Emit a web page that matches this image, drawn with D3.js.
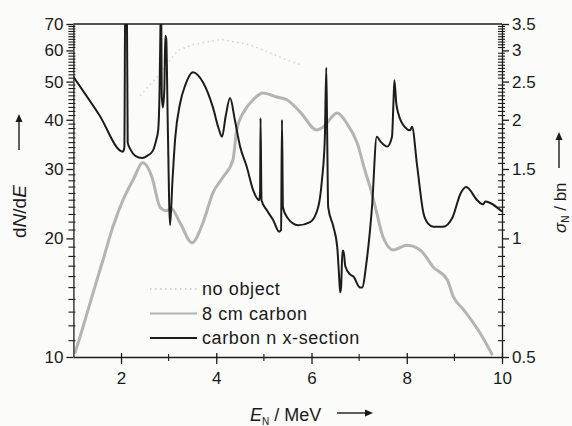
<!DOCTYPE html>
<html>
<head>
<meta charset="utf-8">
<script src="https://cdn.jsdelivr.net/npm/d3@7"></script>
<style>
  body { margin: 0; background: #fbfbf9; }
  svg { display: block; }
  text { font-family: "Liberation Sans", Arial, sans-serif; fill: #1a1a1a; }
</style>
</head>
<body>
<script>
// carbon n x-section (sigma_N in bn)
var xsE = [1.0, 1.54, 2.04, 2.07, 2.09, 2.12, 2.14, 2.2, 2.3, 2.44, 2.55, 2.67, 2.74, 2.78, 2.81, 2.83, 2.84, 2.855, 2.88, 2.91, 2.93, 2.95, 2.98, 3.03,
  3.08, 3.14, 3.24, 3.35, 3.51, 3.72, 3.93, 4.05, 4.12, 4.2, 4.29, 4.39, 4.5, 4.64, 4.77, 4.9, 4.92, 4.93, 4.95, 5.06, 5.2, 5.32, 5.36, 5.38, 5.4,
  5.49, 5.72, 5.97, 6.14, 6.22, 6.28, 6.31, 6.33, 6.35, 6.46, 6.54, 6.58, 6.6, 6.62, 6.65, 6.67, 6.71, 6.81, 6.88, 7.02, 7.06, 7.16, 7.27, 7.37,
  7.45, 7.59, 7.69, 7.72, 7.74, 7.78, 7.82, 7.97, 8.07, 8.11, 8.22, 8.35, 8.45, 8.56, 8.76, 8.96, 9.13, 9.25, 9.48, 9.6, 9.65, 9.75, 10.0];
var xsSigma = [2.57, 2.06, 1.66, 1.7, 4.5, 4.5, 1.75, 1.68, 1.62, 1.6, 1.62, 1.67, 1.78, 1.88, 2.4, 3.6, 4.5, 2.3, 2.15, 2.4, 3.27, 3.2, 2.0, 1.08,
  1.4, 1.81, 2.2, 2.45, 2.64, 2.49, 2.15, 1.9, 1.81, 2.05, 2.27, 2.0, 1.71, 1.52, 1.33, 1.25, 1.3, 2.02, 1.25, 1.18, 1.11, 1.04, 1.05, 2.0, 1.2,
  1.13, 1.08, 1.1, 1.2, 1.41, 1.8, 2.71, 1.8, 1.2, 1.07, 0.95, 0.8, 0.73, 0.75, 0.93, 0.93, 0.85, 0.81, 0.8, 0.75, 0.75, 0.88, 1.2, 1.81,
  1.76, 1.71, 1.81, 2.2, 2.52, 2.2, 2.08, 1.91, 1.88, 1.92, 1.52, 1.16, 1.09, 1.07, 1.07, 1.13, 1.3, 1.35, 1.25, 1.22, 1.24, 1.23, 1.17];

// 8 cm carbon (dN/dE)
var carbonE = [1.03, 1.2, 1.41, 1.62, 1.83, 2.04, 2.25, 2.46, 2.65, 2.82, 2.95, 3.05, 3.24, 3.49, 3.72, 3.93, 4.14, 4.35, 4.43, 4.6, 4.77, 4.98,
  5.27, 5.49, 5.76, 6.11, 6.24, 6.54, 6.74, 6.96, 7.12, 7.23, 7.37, 7.5, 7.72, 8.0, 8.28, 8.56, 8.85, 8.98, 9.19, 9.54, 9.8];
var carbonN = [10.2, 11.9, 14.5, 17.6, 21.4, 25.0, 28.1, 31.1, 28.6, 24.0, 23.5, 23.8, 21.9, 19.5, 21.9, 26.1, 28.6, 31.6, 37.7, 42.3, 44.9, 46.8,
  45.7, 44.9, 41.9, 37.7, 38.3, 41.6, 39.2, 34.9, 29.8, 27.0, 23.2, 20.2, 18.7, 19.2, 18.7, 16.9, 15.7, 14.2, 13.2, 11.5, 10.1];

// no object (dN/dE), only the visible part
var openE = [2.4, 2.6, 2.8, 3.0, 3.2, 3.5, 3.8, 4.1, 4.4, 4.7, 5.0, 5.3, 5.6, 5.8];
var openN = [46, 49, 52, 56, 60, 62, 63, 64, 63, 62, 60, 58, 56, 55];

var xTicks = [2, 4, 6, 8, 10];
var xMinor = [3, 5, 7, 9];
var yTicks = [10, 20, 30, 40, 50, 60, 70];
var sigmaTicks = [0.5, 1, 1.5, 2, 2.5, 3, 3.5];
var legendLabels = ["no object", "8 cm carbon", "carbon n x-section"];

var width = 572, height = 426,
  padL = 73.4, padR = 502, padT = 24, padB = 357;

var svg = d3.select("body").append("svg")
  .attr("width", width)
  .attr("height", height);

var x = d3.scaleLinear().domain([1, 10]).range([padL, padR]);
var y = d3.scaleLog().domain([10, 70]).range([padB, padT]);
var yR = d3.scaleLog().domain([0.5, 3.5]).range([padB, padT]);

svg.append("clipPath").attr("id", "plot")
  .append("rect").attr("x", padL).attr("y", padT).attr("width", padR - padL).attr("height", padB - padT);

var g = svg.append("g").attr("clip-path", "url(#plot)");

var lineN = d3.line().x(function(d){ return x(d[0]); }).y(function(d){ return y(d[1]); });
var lineS = d3.line().x(function(d){ return x(d[0]); }).y(function(d){ return yR(d[1]); })
  .curve(d3.curveMonotoneX);

g.append("path")
  .datum(d3.zip(openE, openN))
  .attr("d", lineN)
  .attr("fill", "none")
  .attr("stroke", "#d2d2d2")
  .attr("stroke-width", 1.5)
  .attr("stroke-dasharray", "1.5,3.5");

g.append("path")
  .datum(d3.zip(carbonE, carbonN))
  .attr("d", lineN.curve(d3.curveMonotoneX))
  .attr("fill", "none")
  .attr("stroke", "#b4b4b4")
  .attr("stroke-width", 3);

g.append("path")
  .datum(d3.zip(xsE, xsSigma))
  .attr("d", lineS)
  .attr("fill", "none")
  .attr("stroke", "#1c1c1c")
  .attr("stroke-width", 2)
  .attr("stroke-linejoin", "round");

// axes
function styleAxis(sel) {
  sel.selectAll("path, line").attr("stroke", "#1c1c1c").attr("stroke-width", 1.3);
  sel.selectAll("text").attr("font-size", 17).attr("fill", "#1a1a1a")
    .attr("font-family", "Liberation Sans, Arial, sans-serif");
}

var minorN = d3.range(11, 70).filter(function(v){ return v % 10 != 0; });

// minor ticks drawn by hand, the two log axes share positions
var minor = svg.append("g").attr("stroke", "#1c1c1c").attr("stroke-width", 1.1);
minor.selectAll(".ml").data(minorN).enter().append("line")
  .attr("x1", padL - 5).attr("x2", padL + 2)
  .attr("y1", function(d){ return y(d); }).attr("y2", function(d){ return y(d); });
minor.selectAll(".mr").data(minorN.map(function(v){ return v / 20; })).enter().append("line")
  .attr("x1", padR - 4).attr("x2", padR + 3)
  .attr("y1", function(d){ return yR(d); }).attr("y2", function(d){ return yR(d); });
minor.selectAll(".mx").data(xMinor).enter().append("line")
  .attr("x1", function(d){ return x(d); }).attr("x2", function(d){ return x(d); })
  .attr("y1", padB - 3).attr("y2", padB + 4);

svg.append("g").attr("transform", "translate(" + padL + ",0)")
  .call(d3.axisLeft(y).tickValues(yTicks).tickSize(7).tickSizeOuter(0).tickPadding(3).tickFormat(d3.format("d")))
  .call(styleAxis);

svg.append("g").attr("transform", "translate(" + padR + ",0)")
  .call(d3.axisRight(yR).tickValues(sigmaTicks).tickSize(7).tickSizeOuter(0).tickPadding(3).tickFormat(d3.format("")))
  .call(styleAxis);

svg.append("g").attr("transform", "translate(0," + padB + ")")
  .call(d3.axisBottom(x).tickValues(xTicks).tickSize(7).tickSizeOuter(0).tickPadding(8).tickFormat(d3.format("d")))
  .call(styleAxis)
  .selectAll(".tick line").attr("y1", -4);

svg.append("line")
  .attr("x1", padL).attr("x2", padR).attr("y1", padT).attr("y2", padT)
  .attr("stroke", "#1c1c1c").attr("stroke-width", 1.3);

// legend
var legend = svg.append("g");
var legendStyles = [
  { stroke: "#c4c4c4", width: 1.5, dash: "1.5,3.5" },
  { stroke: "#b4b4b4", width: 2, dash: null },
  { stroke: "#1c1c1c", width: 2, dash: null }
];
legendLabels.forEach(function(label, i) {
  var ly = 289 + i * 24.5;
  legend.append("line")
    .attr("x1", 150).attr("x2", 197).attr("y1", ly).attr("y2", ly)
    .attr("stroke", legendStyles[i].stroke)
    .attr("stroke-width", legendStyles[i].width)
    .attr("stroke-dasharray", legendStyles[i].dash);
  legend.append("text")
    .attr("x", 202).attr("y", ly + 6)
    .attr("font-size", 18)
    .attr("letter-spacing", 0.6)
    .text(label);
});

// axis titles
function arrow(x1, y1, x2, y2) {
  var a = Math.atan2(y2 - y1, x2 - x1), L = 8, W = 3.5;
  svg.append("line").attr("x1", x1).attr("y1", y1)
    .attr("x2", x2 - Math.cos(a) * 4).attr("y2", y2 - Math.sin(a) * 4)
    .attr("stroke", "#1a1a1a").attr("stroke-width", 1.4);
  var p1 = [x2 - Math.cos(a) * L - Math.sin(a) * W, y2 - Math.sin(a) * L + Math.cos(a) * W],
    p2 = [x2 - Math.cos(a) * L + Math.sin(a) * W, y2 - Math.sin(a) * L - Math.cos(a) * W];
  svg.append("path").attr("d", "M" + x2 + "," + y2 + "L" + p1 + "L" + p2 + "Z").attr("fill", "#1a1a1a");
}

var xt = svg.append("text").attr("x", 250).attr("y", 421).attr("font-size", 18);
xt.append("tspan").attr("font-style", "italic").text("E");
xt.append("tspan").attr("font-size", 10).attr("dy", 4).text("N");
xt.append("tspan").attr("dy", -4).text(" / MeV");
arrow(337, 413, 373, 413);

var yt = svg.append("text").attr("transform", "translate(26,238) rotate(-90)").attr("font-size", 19);
yt.append("tspan").text("d");
yt.append("tspan").attr("font-style", "italic").text("N");
yt.append("tspan").text("/d");
yt.append("tspan").attr("font-style", "italic").text("E");
arrow(19, 150, 19, 114);

var rt = svg.append("text").attr("transform", "translate(566,233) rotate(-90)").attr("font-size", 17);
rt.append("tspan").attr("font-style", "italic").text("σ");
rt.append("tspan").attr("font-size", 10).attr("dy", 3).text("N");
rt.append("tspan").attr("dy", -3).text(" / bn");
arrow(559, 168, 559, 132);
</script>
</body>
</html>
